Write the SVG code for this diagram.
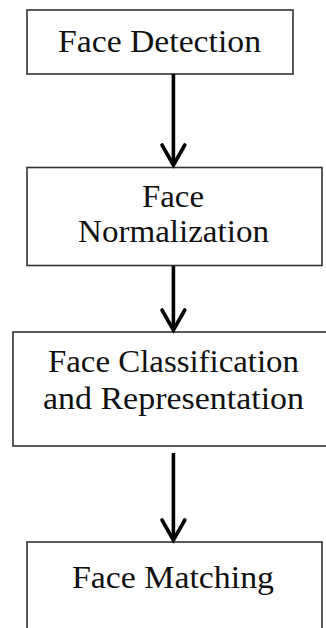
<svg xmlns="http://www.w3.org/2000/svg" width="326" height="628" viewBox="0 0 326 628">
<style>
.box{fill:#fff;stroke:#333;stroke-width:1.6}
.t{font-family:"Liberation Serif","Times New Roman",serif;font-size:31px;fill:#111;text-anchor:middle}
.c{stroke:#000;stroke-width:3.6;fill:none}
.h{stroke:#000;stroke-width:3.6;fill:none;stroke-linejoin:miter;stroke-linecap:round}
</style>
<rect width="326" height="628" fill="#fff"/>
<g id="n1">
<rect class="box" x="27" y="10" width="266" height="64"/>
<text class="t" x="159.5" y="52" textLength="203" lengthAdjust="spacingAndGlyphs">Face Detection</text>
</g>
<g id="n2">
<rect class="box" x="27" y="167.5" width="295" height="98"/>
<text class="t" x="173" y="207" textLength="62" lengthAdjust="spacingAndGlyphs">Face</text>
<text class="t" x="173.5" y="242" textLength="191" lengthAdjust="spacingAndGlyphs">Normalization</text>
</g>
<g id="n3">
<rect class="box" x="13" y="332" width="320" height="114"/>
<text class="t" x="173.5" y="372" textLength="251" lengthAdjust="spacingAndGlyphs">Face Classification</text>
<text class="t" x="173.5" y="409" textLength="261" lengthAdjust="spacingAndGlyphs">and Representation</text>
</g>
<g id="n4">
<rect class="box" x="27" y="542" width="295" height="100"/>
<text class="t" x="173" y="588" textLength="202" lengthAdjust="spacingAndGlyphs">Face Matching</text>
</g>
<g id="connectors">
<line class="c" x1="173.4" y1="74" x2="173.4" y2="164"/>
<path class="h" d="M162 145 L173.4 165 L184.8 145"/>
<line class="c" x1="173.4" y1="266" x2="173.4" y2="329"/>
<path class="h" d="M162 310 L173.4 330 L184.8 310"/>
<line class="c" x1="173.4" y1="453" x2="173.4" y2="539"/>
<path class="h" d="M162 520 L173.4 540 L184.8 520"/>
</g>
</svg>
